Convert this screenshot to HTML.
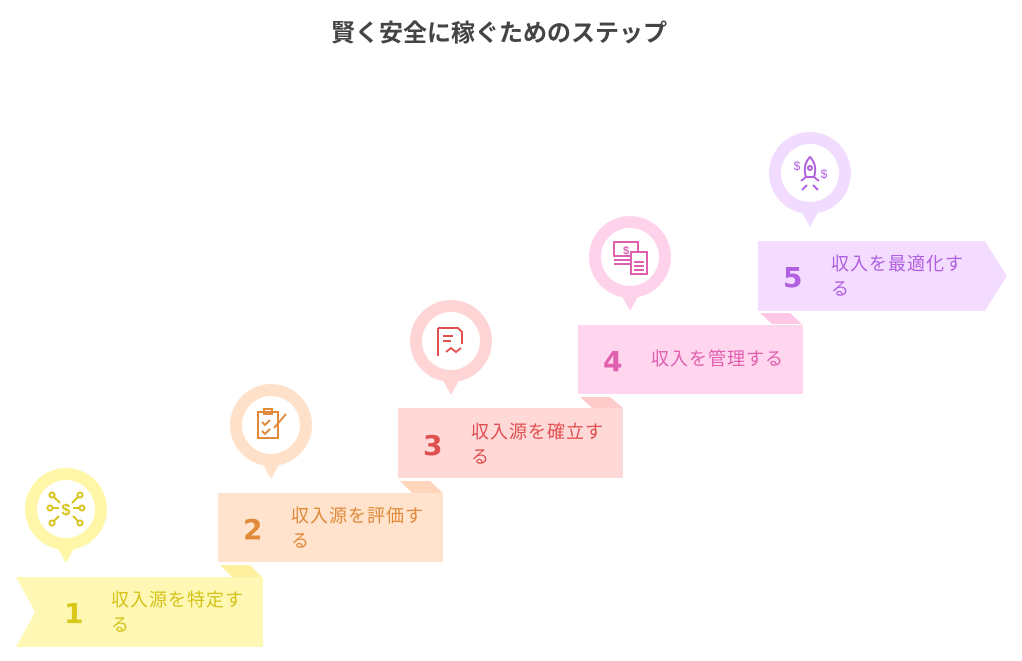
<!DOCTYPE html>
<html><head><meta charset="utf-8"><style>
body{margin:0;width:1022px;height:661px;background:#fff;overflow:hidden;position:relative;font-family:"Liberation Sans","Noto Sans CJK JP",sans-serif}
.t{position:absolute;left:0;width:998px;top:13px;text-align:center;font-size:24px;font-weight:bold;color:#444}
.num{position:absolute;font-size:28px;font-weight:bold;font-family:"DejaVu Sans","Liberation Sans",sans-serif}
.lab{position:absolute;font-size:18px;line-height:25px;width:145px;letter-spacing:1px}
</style></head><body>
<div class="t">賢く安全に稼ぐためのステップ</div>
<svg width="1022" height="661" style="position:absolute;left:0;top:0">
<polygon points="220,565 250,565 262,577 232,577" fill="#fff0a0"/>
<polygon points="400,481 430,481 443,493 412,493" fill="#ffd6bc"/>
<polygon points="580,397 610,397 623,408 592,408" fill="#ffcaca"/>
<polygon points="760,313 790,313 802,324 772,324" fill="#ffc8e6"/>
<polygon points="16,577 263,577 263,647 16,647 35,612" fill="#fff8b5"/>
<rect x="218" y="493" width="225" height="69" fill="#ffe3cc"/>
<rect x="398" y="408" width="225" height="70" fill="#ffd8d8"/>
<rect x="578" y="325" width="225" height="69" fill="#ffd6ee"/>
<polygon points="758,241 985,241 1007,276 985,311 758,311" fill="#f3dcff"/>
<g fill="#fff6a8"><circle cx="66" cy="509" r="41"/><polygon points="56,545 76,545 66,563"/></g><circle cx="66" cy="509" r="29" fill="#fff"/>
<g fill="#ffe0c8"><circle cx="271" cy="425" r="41"/><polygon points="261,461 281,461 271,479"/></g><circle cx="271" cy="425" r="29" fill="#fff"/>
<g fill="#ffd4d4"><circle cx="451" cy="341" r="41"/><polygon points="441,377 461,377 451,395"/></g><circle cx="451" cy="341" r="29" fill="#fff"/>
<g fill="#ffd2ec"><circle cx="630" cy="257" r="41"/><polygon points="620,293 640,293 630,311"/></g><circle cx="630" cy="257" r="29" fill="#fff"/>
<g fill="#f1dcff"><circle cx="810" cy="173" r="41"/><polygon points="800,209 820,209 810,227"/></g><circle cx="810" cy="173" r="29" fill="#fff"/>
<g stroke="#d8c41c" stroke-width="2" fill="none">
<text x="66" y="515" font-size="16" fill="#d8c41c" stroke="none" text-anchor="middle" font-weight="bold">$</text>
<circle cx="52" cy="495" r="2.5"/><circle cx="80" cy="495" r="2.5"/><circle cx="50" cy="508" r="2.5"/><circle cx="82" cy="508" r="2.5"/><circle cx="52" cy="523" r="2.5"/><circle cx="80" cy="523" r="2.5"/>
<path d="M54,497 L60,503 M78,497 L72,503 M53,508 L59,508 M79,508 L73,508 M54,521 L59,516 M78,521 L73,516"/></g>
<g stroke="#e08a3a" stroke-width="2" fill="none"><rect x="258" y="412" width="20" height="26"/><rect x="264" y="409" width="8" height="5"/><path d="M262,422 l3,3 5,-5 M262,431 l3,3 5,-5 M286,414 l-12,14"/></g>
<g stroke="#e05050" stroke-width="2" fill="none"><path d="M438,328 h20 l4,4 v12 M438,328 v28 M443,336 h10 M443,341 h8 M446,352 l5,-4 5,4 5,-4"/></g>
<g stroke="#e060b0" stroke-width="2" fill="none"><rect x="614" y="242" width="24" height="14"/><path d="M614,260 h22 M614,264 h18"/><rect x="631" y="252" width="16" height="22" fill="#fff"/><path d="M634,262 h10 M634,266 h10 M634,270 h10"/><text x="626" y="254" font-size="11" fill="#e060b0" stroke="none" text-anchor="middle" font-weight="bold">$</text></g>
<g stroke="#b060e0" stroke-width="2" fill="none"><path d="M810,157 c-6,6 -6,14 -4,20 h8 c2,-6 2,-14 -4,-20z M806,177 l-5,4 M814,177 l5,4 M802,190 l5,-5 M818,190 l-5,-5"/><circle cx="810" cy="168" r="2"/><text x="797" y="170" font-size="12" fill="#b060e0" stroke="none" text-anchor="middle">$</text><text x="824" y="178" font-size="12" fill="#b060e0" stroke="none" text-anchor="middle">$</text></g>
</svg>
<div class="num" style="left:64px;top:597px;color:#d8c81c">1</div>
<div class="lab" style="left:111px;top:588px;color:#d4c21a">収入源を特定する</div>
<div class="num" style="left:243px;top:513px;color:#e08a3a">2</div>
<div class="lab" style="left:291px;top:504px;color:#e08a3a">収入源を評価する</div>
<div class="num" style="left:423px;top:429px;color:#e05050">3</div>
<div class="lab" style="left:471px;top:420px;color:#e05050">収入源を確立する</div>
<div class="num" style="left:603px;top:345px;color:#e060b0">4</div>
<div class="lab" style="left:651px;top:347px;color:#e060b0;width:160px">収入を管理する</div>
<div class="num" style="left:783px;top:261px;color:#b060e0">5</div>
<div class="lab" style="left:831px;top:252px;color:#b060e0">収入を最適化する</div>
</body></html>
